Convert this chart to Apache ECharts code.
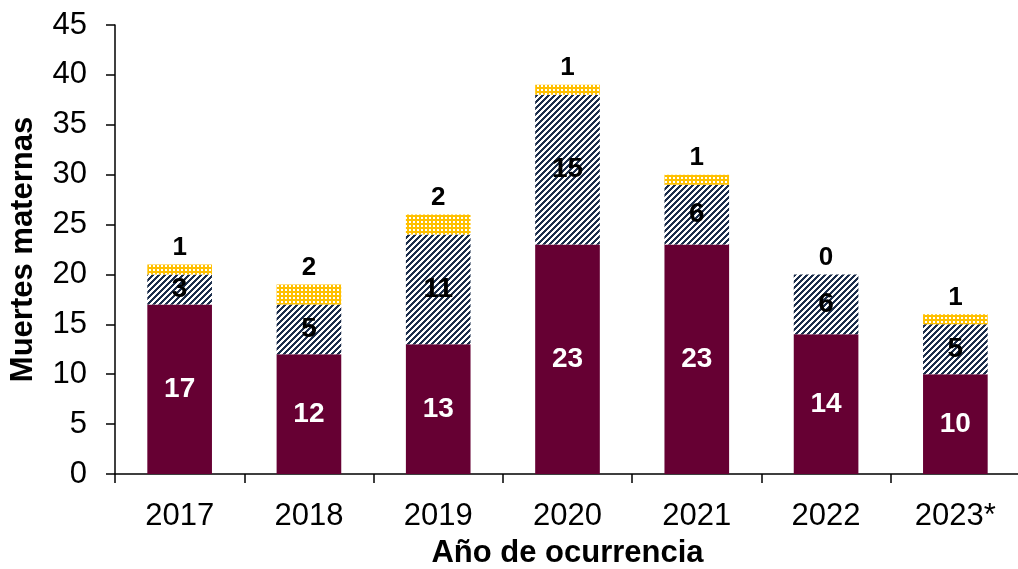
<!DOCTYPE html>
<html>
<head>
<meta charset="utf-8">
<script src="https://cdn.jsdelivr.net/npm/echarts@6/dist/echarts.min.js"></script>
<style>
  html, body { margin: 0; padding: 0; background: #fff; }
  #chart { width: 1018px; height: 569px; }
</style>
</head>
<body>
<div id="chart"></div>
<script>
const years = ['2017', '2018', '2019', '2020', '2021', '2022', '2023*'];
const baseVals = [17, 12, 13, 23, 23, 14, 10];
const stripeVals = [3, 5, 11, 15, 6, 6, 5];
const dotVals = [1, 2, 2, 1, 1, 0, 1];

// diagonal navy stripes on white
function stripeTile() {
  const c = document.createElement('canvas');
  c.width = 6; c.height = 6;
  const ctx = c.getContext('2d');
  const img = ctx.createImageData(6, 6);
  for (let y = 0; y < 6; y++) {
    for (let x = 0; x < 6; x++) {
      const i = (y * 6 + x) * 4;
      const on = (x + y) % 6 < 3;
      img.data[i] = on ? 0x1c : 255;
      img.data[i + 1] = on ? 0x2e : 255;
      img.data[i + 2] = on ? 0x4c : 255;
      img.data[i + 3] = 255;
    }
  }
  ctx.putImageData(img, 0, 0);
  return c;
}

// yellow with small white squares
function dotTile() {
  const c = document.createElement('canvas');
  c.width = 4; c.height = 4;
  const ctx = c.getContext('2d');
  ctx.fillStyle = '#ffc000';
  ctx.fillRect(0, 0, 4, 4);
  ctx.fillStyle = '#ffffff';
  ctx.fillRect(1, 1, 2, 2);
  return c;
}

const font = '"Liberation Sans", Arial, sans-serif';
const chart = echarts.init(document.getElementById('chart'));

chart.setOption({
  animation: false,
  grid: { left: 115, top: 25, width: 905, height: 449, outerBoundsMode: 'none', containLabel: false },
  xAxis: {
    type: 'category',
    data: years,
    name: 'Año de ocurrencia',
    nameLocation: 'middle',
    nameGap: 64,
    nameTextStyle: { fontFamily: font, fontSize: 31, fontWeight: 'bold', color: '#000' },
    axisLine: { lineStyle: { color: '#000', width: 1.5 } },
    axisTick: { show: true, length: 9, interval: 0, lineStyle: { color: '#000', width: 1.5 } },
    axisLabel: { fontFamily: font, fontSize: 31, color: '#000', margin: 27 },
  },
  yAxis: {
    type: 'value',
    min: 0,
    max: 45,
    interval: 5,
    name: 'Muertes maternas',
    nameLocation: 'middle',
    nameGap: 76,
    nameTextStyle: { fontFamily: font, fontSize: 31, fontWeight: 'bold', color: '#000' },
    axisLine: { show: true, lineStyle: { color: '#000', width: 1.5 } },
    axisTick: { show: true, length: 9, lineStyle: { color: '#000', width: 1.5 } },
    axisLabel: { fontFamily: font, fontSize: 31, color: '#000', margin: 28 },
    splitLine: { show: false },
  },
  series: [
    {
      type: 'bar',
      stack: 'total',
      data: baseVals,
      barWidth: '50%',
      itemStyle: { color: '#660033' },
      label: {
        show: true, position: 'inside',
        fontFamily: font, fontSize: 28, fontWeight: 'bold', color: '#fff',
      },
    },
    {
      type: 'bar',
      stack: 'total',
      data: stripeVals,
      itemStyle: { color: { image: stripeTile(), repeat: 'repeat' } },
      label: {
        show: true, position: 'inside',
        fontFamily: font, fontSize: 28, fontWeight: 'bold', color: '#000',
      },
    },
    {
      type: 'bar',
      stack: 'total',
      data: dotVals,
      itemStyle: { color: { image: dotTile(), repeat: 'repeat' } },
      label: {
        show: true, position: 'top', distance: 4,
        fontFamily: font, fontSize: 26, fontWeight: 'bold', color: '#000',
      },
    },
  ],
});
</script>
</body>
</html>
